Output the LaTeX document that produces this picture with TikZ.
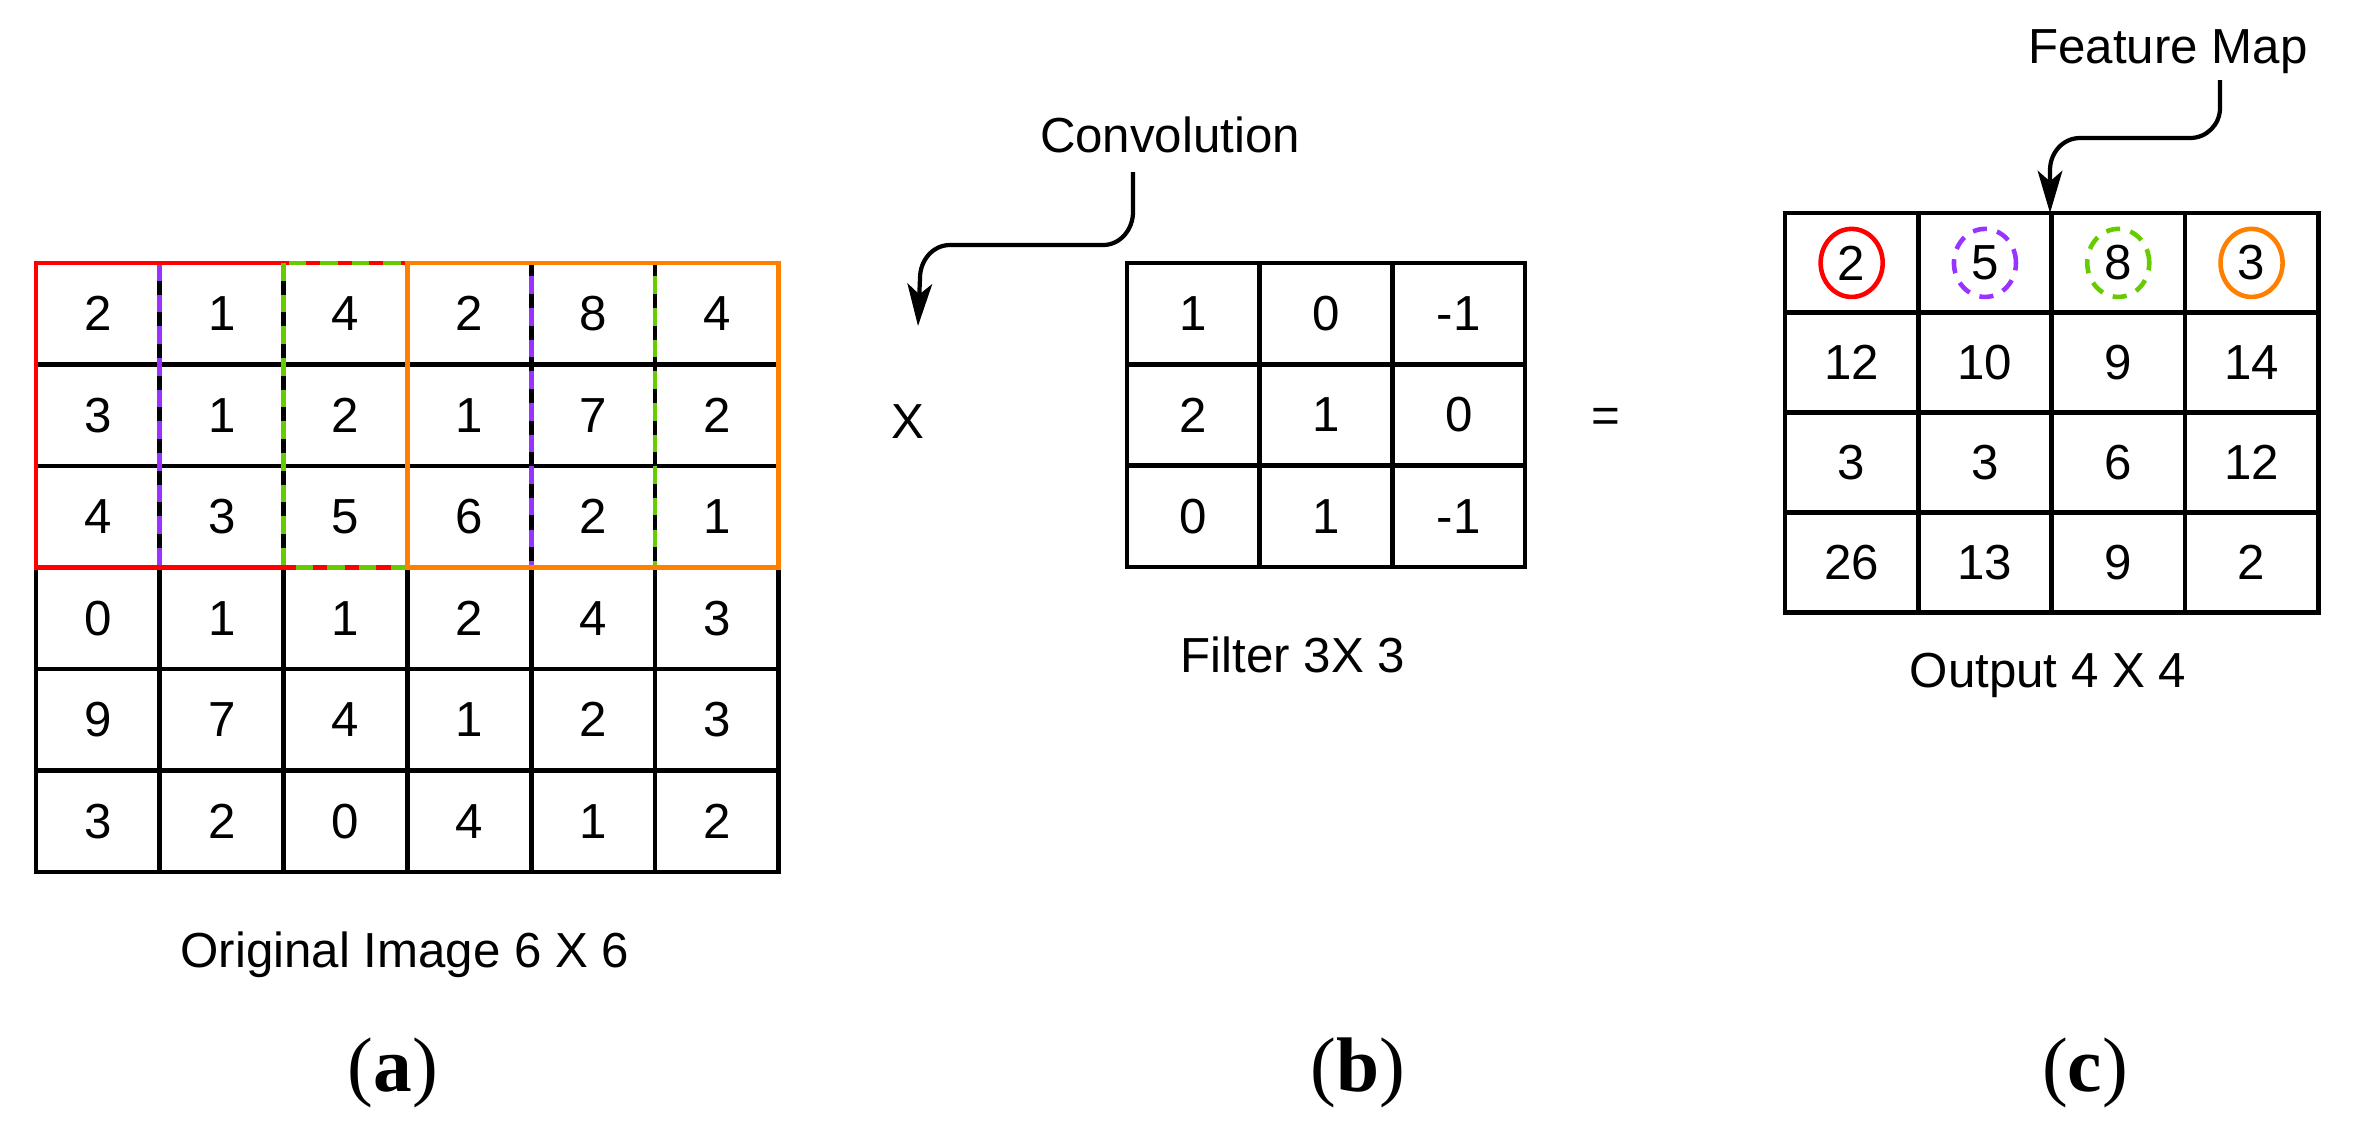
\documentclass[tikz,border=0pt]{standalone}
\usepackage{fontspec}
\setmainfont{Liberation Sans}
\newfontfamily\capfont{Liberation Serif}
\usetikzlibrary{arrows.meta,shapes.geometric}
\definecolor{cred}{HTML}{FF0000}
\definecolor{cpur}{HTML}{9933FF}
\definecolor{cgrn}{HTML}{66CC00}
\definecolor{cora}{HTML}{FF8000}
\begin{document}
\begin{tikzpicture}[x=0.01cm,y=-0.01cm,
  lw/.style={line width=1.35pt},
  num/.style={font=\fontsize{14}{16}\selectfont},
  lab/.style={font=\fontsize{14}{16}\selectfont},
  captxt/.style={font=\capfont\fontsize{22}{26}\selectfont},
  hl/.style={line width=1.35pt},
  dsh/.style={hl,dash pattern=on 5pt off 4pt},
  arr/.style={line width=1.2pt,-{Stealth[length=12pt,width=7pt,inset=3pt]}},
  circ/.style={ellipse,draw,line width=1.3pt,minimum width=0.62cm,minimum height=0.68cm}
]
\useasboundingbox (0,0) rectangle (2354,1135);
% --- original image 6x6
\def\ox{36}\def\oy{263}\def\ow{123.8}\def\oh{101.5}
\foreach \i in {0,...,6}{
  \draw[lw] (\ox+\i*\ow,\oy) -- (\ox+\i*\ow,\oy+6*\oh);
  \draw[lw] (\ox,\oy+\i*\oh) -- (\ox+6*\ow,\oy+\i*\oh);}
\draw[lw] (\ox,\oy) rectangle (\ox+6*\ow,\oy+6*\oh);
\foreach \row [count=\r from 0] in {{2,1,4,2,8,4},{3,1,2,1,7,2},{4,3,5,6,2,1},{0,1,1,2,4,3},{9,7,4,1,2,3},{3,2,0,4,1,2}}{
  \foreach \v [count=\c from 0] in \row {
    \node[num] (o\r\c) at (\ox+\c*\ow+0.5*\ow,\oy+\r*\oh+0.5*\oh) {\v};
  }}
\draw[dsh,cpur] (\ox+\ow,\oy) rectangle (\ox+4*\ow,\oy+3*\oh);
\draw[hl,cred] (\ox,\oy) rectangle (\ox+3*\ow,\oy+3*\oh);
\draw[dsh,cgrn] (\ox+2*\ow,\oy) rectangle (\ox+5*\ow,\oy+3*\oh);
\draw[hl,cora] (\ox+3*\ow,\oy) rectangle (\ox+6*\ow,\oy+3*\oh);
\node[lab] (olab) at (405,955) {Original Image 6 X 6};
% --- filter
\def\fx{1127}\def\fy{263}\def\fw{132.7}\def\fh{101.3}
\foreach \i in {0,...,3}{
  \draw[lw] (\fx+\i*\fw,\fy) -- (\fx+\i*\fw,\fy+3*\fh);
  \draw[lw] (\fx,\fy+\i*\fh) -- (\fx+3*\fw,\fy+\i*\fh);}
\draw[lw] (\fx,\fy) rectangle (\fx+3*\fw,\fy+3*\fh);
\foreach \row [count=\r from 0] in {{1,0,-1},{2,1,0},{0,1,-1}}{
  \foreach \v [count=\c from 0] in \row {
    \node[num] (f\r\c) at (\fx+\c*\fw+0.5*\fw,\fy+\r*\fh+0.5*\fh) {\v};
  }}
\node[lab] (flab) at (1293,655) {Filter 3X 3};
% --- output
\def\px{1785}\def\py{213}\def\pw{133.3}\def\ph{99.8}
\foreach \i in {0,...,4}{
  \draw[lw] (\px+\i*\pw,\py) -- (\px+\i*\pw,\py+4*\ph);
  \draw[lw] (\px,\py+\i*\ph) -- (\px+4*\pw,\py+\i*\ph);}
\draw[lw] (\px,\py) rectangle (\px+4*\pw,\py+4*\ph);
\foreach \row [count=\r from 0] in {{2,5,8,3},{12,10,9,14},{3,3,6,12},{26,13,9,2}}{
  \foreach \v [count=\c from 0] in \row {
    \node[num] (p\r\c) at (\px+\c*\pw+0.5*\pw,\py+\r*\ph+0.5*\ph) {\v};
  }}
\node[circ,cred] (c0) at (p00) {};
\node[circ,cpur,dash pattern=on 4pt off 3pt] (c1) at (p01) {};
\node[circ,cgrn,dash pattern=on 4pt off 3pt] (c2) at (p02) {};
\node[circ,cora] (c3) at (p03) {};
\node[lab] (plab) at (2048,675) {Output 4 X 4};
% --- operators
\node[lab] (times) at (908,422) {X};
\node[lab] (eq) at (1606,420) {=};
% --- annotations
\node[lab] (conv) at (1170,135) {Convolution};
\coordinate (cs) at (1133,172);
\coordinate (ce) at (918,326);
\draw[arr] (cs) -- (1133,212) to[out=-90,in=0] (1103,245) -- (950,245) to[out=180,in=90] (920,278) -- (ce);
\node[lab] (fm) at (2168,52) {Feature Map};
\coordinate (fs) at (2220,80);
\draw[arr] (fs) -- (2220,108) to[out=-90,in=0] (2190,138) -- (2080,138) to[out=180,in=90] (2050,170) -- (2050,\py);
% --- captions
\node[captxt] (ca) at (393,1073) {(\textbf{a})};
\node[captxt] (cb) at (1358,1073) {(\textbf{b})};
\node[captxt] (cc) at (2085,1073) {(\textbf{c})};
\end{tikzpicture}
\end{document}
